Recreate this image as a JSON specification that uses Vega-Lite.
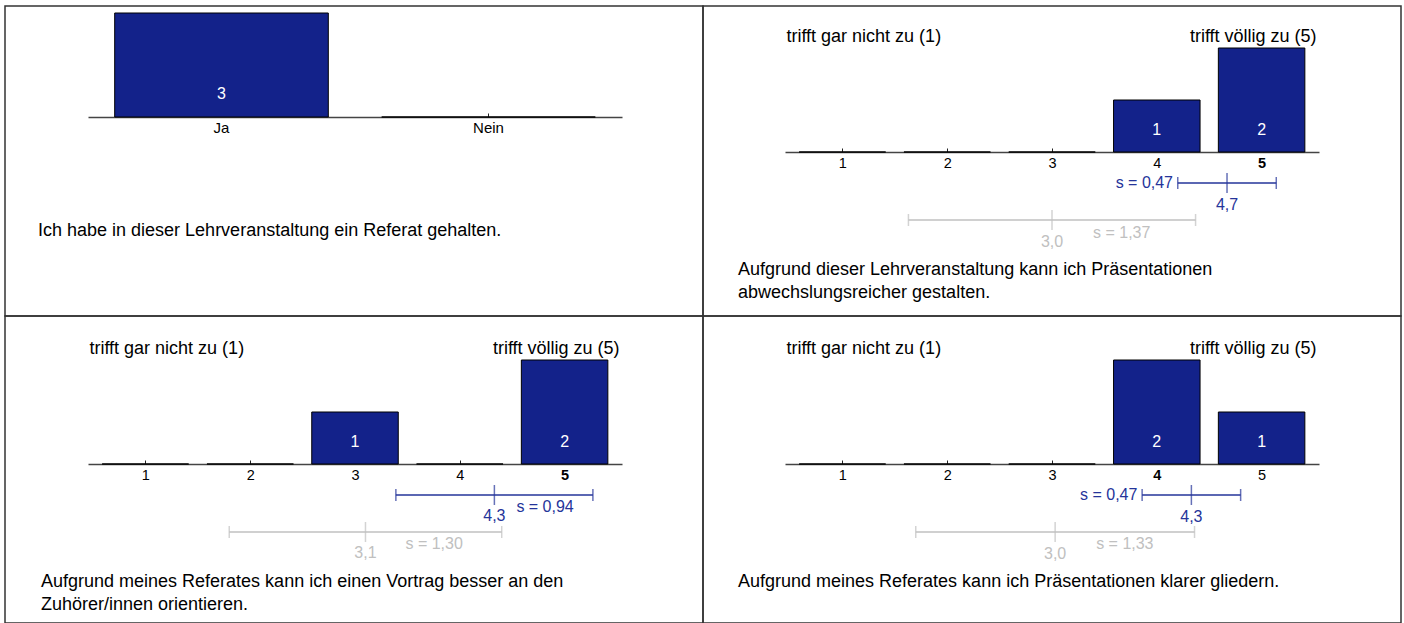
{
  "$schema": "https://vega.github.io/schema/vega-lite/v6.json",
  "padding": {"left": 4, "top": 5, "right": 2, "bottom": 0},
  "columns": 2,
  "spacing": 0,
  "bounds": "flush",
  "datasets": {
    "verteilung_p1": [{"antwort": "Ja", "anzahl": 3}, {"antwort": "Nein", "anzahl": 0}],
    "verteilung_p2": [{"wert": 1, "anzahl": 0}, {"wert": 2, "anzahl": 0}, {"wert": 3, "anzahl": 0}, {"wert": 4, "anzahl": 1}, {"wert": 5, "anzahl": 2}],
    "verteilung_p3": [{"wert": 1, "anzahl": 0}, {"wert": 2, "anzahl": 0}, {"wert": 3, "anzahl": 1}, {"wert": 4, "anzahl": 0}, {"wert": 5, "anzahl": 2}],
    "verteilung_p4": [{"wert": 1, "anzahl": 0}, {"wert": 2, "anzahl": 0}, {"wert": 3, "anzahl": 0}, {"wert": 4, "anzahl": 2}, {"wert": 5, "anzahl": 1}],
    "statistik_p2": [{"gruppe": "Lehrveranstaltung", "mittel": 4.67, "sd": 0.47}, {"gruppe": "Vergleich", "mittel": 3.0, "sd": 1.37}],
    "statistik_p3": [{"gruppe": "Lehrveranstaltung", "mittel": 4.33, "sd": 0.94}, {"gruppe": "Vergleich", "mittel": 3.1, "sd": 1.30}],
    "statistik_p4": [{"gruppe": "Lehrveranstaltung", "mittel": 4.33, "sd": 0.47}, {"gruppe": "Vergleich", "mittel": 3.03, "sd": 1.33}],
    "pole": [{"wert": 1, "text": "trifft gar nicht zu (1)"}, {"wert": 5, "text": "trifft völlig zu (5)"}],
    "frage_p1": [{"frage": "Ich habe in dieser Lehrveranstaltung ein Referat gehalten."}],
    "frage_p2": [{"frage": "Aufgrund dieser Lehrveranstaltung kann ich Präsentationen\nabwechslungsreicher gestalten."}],
    "frage_p3": [{"frage": "Aufgrund meines Referates kann ich einen Vortrag besser an den\nZuhörer/innen orientieren."}],
    "frage_p4": [{"frage": "Aufgrund meines Referates kann ich Präsentationen klarer gliedern."}]
  },
  "concat": [
    {
      "width": 698, "height": 310,
      "layer": [
        {
          "data": {"name": "verteilung_p1"},
          "mark": {"type": "bar", "fill": "#13228a", "stroke": "#000000", "strokeWidth": 1},
          "encoding": {
            "x": {"field": "antwort", "type": "nominal", "sort": null,
              "scale": {"type": "band", "domain": ["Ja", "Nein"], "range": [83, 617], "paddingInner": 0.2, "paddingOuter": 0.1},
              "axis": {"orient": "bottom", "offset": -199, "title": null, "grid": false, "labelAngle": 0, "domainColor": "#444444", "domainWidth": 1.5, "tickColor": "#222222", "tickSize": -4, "tickWidth": 1, "labelFontSize": 15, "labelColor": "#000000", "labelPadding": 7}},
            "y": {"field": "anzahl", "type": "quantitative", "scale": {"domain": [0, 3], "range": [111, 7], "nice": false}, "axis": null}
          }
        },
        {
          "data": {"name": "verteilung_p1"},
          "transform": [{"filter": "datum.anzahl > 0"}],
          "mark": {"type": "text", "color": "#ffffff", "fontSize": 16, "baseline": "middle", "dy": -23},
          "encoding": {
            "x": {"field": "antwort", "type": "nominal"},
            "y": {"datum": 0, "type": "quantitative", "scale": {"domain": [0, 3], "range": [111, 7], "nice": false}, "axis": null},
            "text": {"field": "anzahl", "type": "quantitative"}
          }
        },
        {
          "data": {"name": "frage_p1"},
          "mark": {"type": "text", "align": "left", "baseline": "middle", "fontSize": 18, "color": "#000000"},
          "encoding": {"x": {"value": 33}, "y": {"value": 225}, "text": {"field": "frage", "type": "nominal"}}
        }
      ]
    },
    {
      "width": 698, "height": 310,
      "resolve": {"scale": {"y": "independent"}},
      "layer": [
        {
          "data": {"name": "verteilung_p2"},
          "mark": {"type": "bar", "width": 86.5, "fill": "#13228a", "stroke": "#000000", "strokeWidth": 1},
          "encoding": {
            "x": {"field": "wert", "type": "quantitative",
              "scale": {"domain": [0.5, 5.5], "range": [82, 616], "nice": false, "zero": false},
              "axis": {"orient": "bottom", "offset": -164, "values": [1, 2, 3, 4, 5], "format": "d", "title": null, "grid": false, "domainColor": "#444444", "domainWidth": 1.5, "tickColor": "#222222", "tickSize": -4, "tickWidth": 1, "labelFontSize": 14.5, "labelColor": "#000000", "labelPadding": 8, "labelFontWeight": {"condition": {"test": "datum.value == 5", "value": "bold"}, "value": "normal"}}},
            "y": {"field": "anzahl", "type": "quantitative", "scale": {"domain": [0, 2], "range": [146, 42], "nice": false}, "axis": null}
          }
        },
        {
          "data": {"name": "verteilung_p2"},
          "transform": [{"filter": "datum.anzahl > 0"}],
          "mark": {"type": "text", "color": "#ffffff", "fontSize": 16, "baseline": "middle", "dy": -22},
          "encoding": {
            "x": {"field": "wert", "type": "quantitative"},
            "y": {"datum": 0, "type": "quantitative", "scale": {"domain": [0, 2], "range": [146, 42], "nice": false}, "axis": null},
            "text": {"field": "anzahl", "type": "quantitative"}
          }
        },
        {
          "data": {"name": "pole"},
          "transform": [{"filter": "datum.wert == 1"}],
          "mark": {"type": "text", "align": "left", "baseline": "middle", "fontSize": 18, "dx": -56, "color": "#000000"},
          "encoding": {"x": {"field": "wert", "type": "quantitative"}, "y": {"value": 31}, "text": {"field": "text", "type": "nominal"}}
        },
        {
          "data": {"name": "pole"},
          "transform": [{"filter": "datum.wert == 5"}],
          "mark": {"type": "text", "align": "right", "baseline": "middle", "fontSize": 18, "dx": 55, "color": "#000000"},
          "encoding": {"x": {"field": "wert", "type": "quantitative"}, "y": {"value": 31}, "text": {"field": "text", "type": "nominal"}}
        },
        {
          "data": {"name": "statistik_p2"},
          "mark": {"type": "errorbar", "ticks": true, "size": 12, "thickness": 1.5},
          "encoding": {
            "x": {"field": "mittel", "type": "quantitative"},
            "xError": {"field": "sd"},
            "y": {"field": "gruppe", "type": "nominal", "scale": {"type": "point", "domain": ["Lehrveranstaltung", "Vergleich"], "range": [177, 214], "padding": 0}, "axis": null},
            "color": {"field": "gruppe", "type": "nominal", "scale": {"domain": ["Lehrveranstaltung", "Vergleich"], "range": ["#25349a", "#c0c0c0"]}, "legend": null}
          }
        },
        {
          "data": {"name": "statistik_p2"},
          "mark": {"type": "tick", "size": 20, "thickness": 1.5},
          "encoding": {
            "x": {"field": "mittel", "type": "quantitative"},
            "y": {"field": "gruppe", "type": "nominal", "scale": {"type": "point", "domain": ["Lehrveranstaltung", "Vergleich"], "range": [177, 214], "padding": 0}, "axis": null},
            "color": {"field": "gruppe", "type": "nominal", "legend": null}
          }
        },
        {
          "data": {"name": "statistik_p2"},
          "mark": {"type": "text", "fontSize": 16, "baseline": "middle", "dy": 21.5},
          "encoding": {
            "x": {"field": "mittel", "type": "quantitative"},
            "y": {"field": "gruppe", "type": "nominal", "scale": {"type": "point", "domain": ["Lehrveranstaltung", "Vergleich"], "range": [177, 214], "padding": 0}, "axis": null},
            "text": {"field": "mittel", "type": "quantitative", "format": ".1f"},
            "color": {"field": "gruppe", "type": "nominal", "legend": null}
          }
        },
        {
          "data": {"name": "statistik_p2"},
          "transform": [{"filter": "datum.gruppe == 'Lehrveranstaltung'"}],
          "mark": {"type": "text", "fontSize": 16, "baseline": "middle", "align": "right", "dx": -54},
          "encoding": {
            "x": {"field": "mittel", "type": "quantitative"},
            "y": {"field": "gruppe", "type": "nominal", "scale": {"type": "point", "domain": ["Lehrveranstaltung", "Vergleich"], "range": [177, 214], "padding": 0}, "axis": null},
            "text": {"field": "sd", "type": "quantitative", "format": "$.2f"},
            "color": {"field": "gruppe", "type": "nominal", "legend": null}
          }
        },
        {
          "data": {"name": "statistik_p2"},
          "transform": [{"filter": "datum.gruppe == 'Vergleich'"}],
          "mark": {"type": "text", "fontSize": 16, "baseline": "middle", "align": "left", "dx": 41, "dy": 12.5},
          "encoding": {
            "x": {"field": "mittel", "type": "quantitative"},
            "y": {"field": "gruppe", "type": "nominal", "scale": {"type": "point", "domain": ["Lehrveranstaltung", "Vergleich"], "range": [177, 214], "padding": 0}, "axis": null},
            "text": {"field": "sd", "type": "quantitative", "format": "$.2f"},
            "color": {"field": "gruppe", "type": "nominal", "legend": null}
          }
        },
        {
          "data": {"name": "frage_p2"},
          "mark": {"type": "text", "align": "left", "baseline": "middle", "fontSize": 18, "lineBreak": "\n", "lineHeight": 23, "color": "#000000"},
          "encoding": {"x": {"value": 35}, "y": {"value": 264}, "text": {"field": "frage", "type": "nominal"}}
        }
      ]
    },
    {
      "width": 698, "height": 307,
      "resolve": {"scale": {"y": "independent"}},
      "layer": [
        {
          "data": {"name": "verteilung_p3"},
          "mark": {"type": "bar", "width": 86.5, "fill": "#13228a", "stroke": "#000000", "strokeWidth": 1},
          "encoding": {
            "x": {"field": "wert", "type": "quantitative",
              "scale": {"domain": [0.5, 5.5], "range": [83, 617], "nice": false, "zero": false},
              "axis": {"orient": "bottom", "offset": -159, "values": [1, 2, 3, 4, 5], "format": "d", "title": null, "grid": false, "domainColor": "#444444", "domainWidth": 1.5, "tickColor": "#222222", "tickSize": -4, "tickWidth": 1, "labelFontSize": 14.5, "labelColor": "#000000", "labelPadding": 8, "labelFontWeight": {"condition": {"test": "datum.value == 5", "value": "bold"}, "value": "normal"}}},
            "y": {"field": "anzahl", "type": "quantitative", "scale": {"domain": [0, 2], "range": [148, 44], "nice": false}, "axis": null}
          }
        },
        {
          "data": {"name": "verteilung_p3"},
          "transform": [{"filter": "datum.anzahl > 0"}],
          "mark": {"type": "text", "color": "#ffffff", "fontSize": 16, "baseline": "middle", "dy": -22},
          "encoding": {
            "x": {"field": "wert", "type": "quantitative"},
            "y": {"datum": 0, "type": "quantitative", "scale": {"domain": [0, 2], "range": [148, 44], "nice": false}, "axis": null},
            "text": {"field": "anzahl", "type": "quantitative"}
          }
        },
        {
          "data": {"name": "pole"},
          "transform": [{"filter": "datum.wert == 1"}],
          "mark": {"type": "text", "align": "left", "baseline": "middle", "fontSize": 18, "dx": -56, "color": "#000000"},
          "encoding": {"x": {"field": "wert", "type": "quantitative"}, "y": {"value": 33}, "text": {"field": "text", "type": "nominal"}}
        },
        {
          "data": {"name": "pole"},
          "transform": [{"filter": "datum.wert == 5"}],
          "mark": {"type": "text", "align": "right", "baseline": "middle", "fontSize": 18, "dx": 55, "color": "#000000"},
          "encoding": {"x": {"field": "wert", "type": "quantitative"}, "y": {"value": 33}, "text": {"field": "text", "type": "nominal"}}
        },
        {
          "data": {"name": "statistik_p3"},
          "mark": {"type": "errorbar", "ticks": true, "size": 12, "thickness": 1.5},
          "encoding": {
            "x": {"field": "mittel", "type": "quantitative"},
            "xError": {"field": "sd"},
            "y": {"field": "gruppe", "type": "nominal", "scale": {"type": "point", "domain": ["Lehrveranstaltung", "Vergleich"], "range": [179, 216], "padding": 0}, "axis": null},
            "color": {"field": "gruppe", "type": "nominal", "scale": {"domain": ["Lehrveranstaltung", "Vergleich"], "range": ["#25349a", "#c0c0c0"]}, "legend": null}
          }
        },
        {
          "data": {"name": "statistik_p3"},
          "mark": {"type": "tick", "size": 20, "thickness": 1.5},
          "encoding": {
            "x": {"field": "mittel", "type": "quantitative"},
            "y": {"field": "gruppe", "type": "nominal", "scale": {"type": "point", "domain": ["Lehrveranstaltung", "Vergleich"], "range": [179, 216], "padding": 0}, "axis": null},
            "color": {"field": "gruppe", "type": "nominal", "legend": null}
          }
        },
        {
          "data": {"name": "statistik_p3"},
          "mark": {"type": "text", "fontSize": 16, "baseline": "middle", "dy": 21},
          "encoding": {
            "x": {"field": "mittel", "type": "quantitative"},
            "y": {"field": "gruppe", "type": "nominal", "scale": {"type": "point", "domain": ["Lehrveranstaltung", "Vergleich"], "range": [179, 216], "padding": 0}, "axis": null},
            "text": {"field": "mittel", "type": "quantitative", "format": ".1f"},
            "color": {"field": "gruppe", "type": "nominal", "legend": null}
          }
        },
        {
          "data": {"name": "statistik_p3"},
          "transform": [{"filter": "datum.gruppe == 'Lehrveranstaltung'"}],
          "mark": {"type": "text", "fontSize": 16, "baseline": "middle", "align": "left", "dx": 22, "dy": 12},
          "encoding": {
            "x": {"field": "mittel", "type": "quantitative"},
            "y": {"field": "gruppe", "type": "nominal", "scale": {"type": "point", "domain": ["Lehrveranstaltung", "Vergleich"], "range": [179, 216], "padding": 0}, "axis": null},
            "text": {"field": "sd", "type": "quantitative", "format": "$.2f"},
            "color": {"field": "gruppe", "type": "nominal", "legend": null}
          }
        },
        {
          "data": {"name": "statistik_p3"},
          "transform": [{"filter": "datum.gruppe == 'Vergleich'"}],
          "mark": {"type": "text", "fontSize": 16, "baseline": "middle", "align": "left", "dx": 40, "dy": 12},
          "encoding": {
            "x": {"field": "mittel", "type": "quantitative"},
            "y": {"field": "gruppe", "type": "nominal", "scale": {"type": "point", "domain": ["Lehrveranstaltung", "Vergleich"], "range": [179, 216], "padding": 0}, "axis": null},
            "text": {"field": "sd", "type": "quantitative", "format": "$.2f"},
            "color": {"field": "gruppe", "type": "nominal", "legend": null}
          }
        },
        {
          "data": {"name": "frage_p3"},
          "mark": {"type": "text", "align": "left", "baseline": "middle", "fontSize": 18, "lineBreak": "\n", "lineHeight": 22.5, "color": "#000000"},
          "encoding": {"x": {"value": 36}, "y": {"value": 266}, "text": {"field": "frage", "type": "nominal"}}
        }
      ]
    },
    {
      "width": 698, "height": 307,
      "resolve": {"scale": {"y": "independent"}},
      "layer": [
        {
          "data": {"name": "verteilung_p4"},
          "mark": {"type": "bar", "width": 86.5, "fill": "#13228a", "stroke": "#000000", "strokeWidth": 1},
          "encoding": {
            "x": {"field": "wert", "type": "quantitative",
              "scale": {"domain": [0.5, 5.5], "range": [82, 616], "nice": false, "zero": false},
              "axis": {"orient": "bottom", "offset": -159, "values": [1, 2, 3, 4, 5], "format": "d", "title": null, "grid": false, "domainColor": "#444444", "domainWidth": 1.5, "tickColor": "#222222", "tickSize": -4, "tickWidth": 1, "labelFontSize": 14.5, "labelColor": "#000000", "labelPadding": 8, "labelFontWeight": {"condition": {"test": "datum.value == 4", "value": "bold"}, "value": "normal"}}},
            "y": {"field": "anzahl", "type": "quantitative", "scale": {"domain": [0, 2], "range": [148, 44], "nice": false}, "axis": null}
          }
        },
        {
          "data": {"name": "verteilung_p4"},
          "transform": [{"filter": "datum.anzahl > 0"}],
          "mark": {"type": "text", "color": "#ffffff", "fontSize": 16, "baseline": "middle", "dy": -22},
          "encoding": {
            "x": {"field": "wert", "type": "quantitative"},
            "y": {"datum": 0, "type": "quantitative", "scale": {"domain": [0, 2], "range": [148, 44], "nice": false}, "axis": null},
            "text": {"field": "anzahl", "type": "quantitative"}
          }
        },
        {
          "data": {"name": "pole"},
          "transform": [{"filter": "datum.wert == 1"}],
          "mark": {"type": "text", "align": "left", "baseline": "middle", "fontSize": 18, "dx": -56, "color": "#000000"},
          "encoding": {"x": {"field": "wert", "type": "quantitative"}, "y": {"value": 33}, "text": {"field": "text", "type": "nominal"}}
        },
        {
          "data": {"name": "pole"},
          "transform": [{"filter": "datum.wert == 5"}],
          "mark": {"type": "text", "align": "right", "baseline": "middle", "fontSize": 18, "dx": 55, "color": "#000000"},
          "encoding": {"x": {"field": "wert", "type": "quantitative"}, "y": {"value": 33}, "text": {"field": "text", "type": "nominal"}}
        },
        {
          "data": {"name": "statistik_p4"},
          "mark": {"type": "errorbar", "ticks": true, "size": 12, "thickness": 1.5},
          "encoding": {
            "x": {"field": "mittel", "type": "quantitative"},
            "xError": {"field": "sd"},
            "y": {"field": "gruppe", "type": "nominal", "scale": {"type": "point", "domain": ["Lehrveranstaltung", "Vergleich"], "range": [179, 216], "padding": 0}, "axis": null},
            "color": {"field": "gruppe", "type": "nominal", "scale": {"domain": ["Lehrveranstaltung", "Vergleich"], "range": ["#25349a", "#c0c0c0"]}, "legend": null}
          }
        },
        {
          "data": {"name": "statistik_p4"},
          "mark": {"type": "tick", "size": 20, "thickness": 1.5},
          "encoding": {
            "x": {"field": "mittel", "type": "quantitative"},
            "y": {"field": "gruppe", "type": "nominal", "scale": {"type": "point", "domain": ["Lehrveranstaltung", "Vergleich"], "range": [179, 216], "padding": 0}, "axis": null},
            "color": {"field": "gruppe", "type": "nominal", "legend": null}
          }
        },
        {
          "data": {"name": "statistik_p4"},
          "mark": {"type": "text", "fontSize": 16, "baseline": "middle", "dy": 21.5},
          "encoding": {
            "x": {"field": "mittel", "type": "quantitative"},
            "y": {"field": "gruppe", "type": "nominal", "scale": {"type": "point", "domain": ["Lehrveranstaltung", "Vergleich"], "range": [179, 216], "padding": 0}, "axis": null},
            "text": {"field": "mittel", "type": "quantitative", "format": ".1f"},
            "color": {"field": "gruppe", "type": "nominal", "legend": null}
          }
        },
        {
          "data": {"name": "statistik_p4"},
          "transform": [{"filter": "datum.gruppe == 'Lehrveranstaltung'"}],
          "mark": {"type": "text", "fontSize": 16, "baseline": "middle", "align": "right", "dx": -54},
          "encoding": {
            "x": {"field": "mittel", "type": "quantitative"},
            "y": {"field": "gruppe", "type": "nominal", "scale": {"type": "point", "domain": ["Lehrveranstaltung", "Vergleich"], "range": [179, 216], "padding": 0}, "axis": null},
            "text": {"field": "sd", "type": "quantitative", "format": "$.2f"},
            "color": {"field": "gruppe", "type": "nominal", "legend": null}
          }
        },
        {
          "data": {"name": "statistik_p4"},
          "transform": [{"filter": "datum.gruppe == 'Vergleich'"}],
          "mark": {"type": "text", "fontSize": 16, "baseline": "middle", "align": "left", "dx": 41, "dy": 12},
          "encoding": {
            "x": {"field": "mittel", "type": "quantitative"},
            "y": {"field": "gruppe", "type": "nominal", "scale": {"type": "point", "domain": ["Lehrveranstaltung", "Vergleich"], "range": [179, 216], "padding": 0}, "axis": null},
            "text": {"field": "sd", "type": "quantitative", "format": "$.2f"},
            "color": {"field": "gruppe", "type": "nominal", "legend": null}
          }
        },
        {
          "data": {"name": "frage_p4"},
          "mark": {"type": "text", "align": "left", "baseline": "middle", "fontSize": 18, "color": "#000000"},
          "encoding": {"x": {"value": 35}, "y": {"value": 266}, "text": {"field": "frage", "type": "nominal"}}
        }
      ]
    }
  ],
  "config": {
    "font": "Liberation Sans",
    "view": {"stroke": "#333333", "strokeWidth": 1.5},
    "locale": {"number": {"decimal": ",", "thousands": ".", "grouping": [3], "currency": ["s = ", ""]}},
    "axis": {"labelFont": "Liberation Sans"}
  }
}
